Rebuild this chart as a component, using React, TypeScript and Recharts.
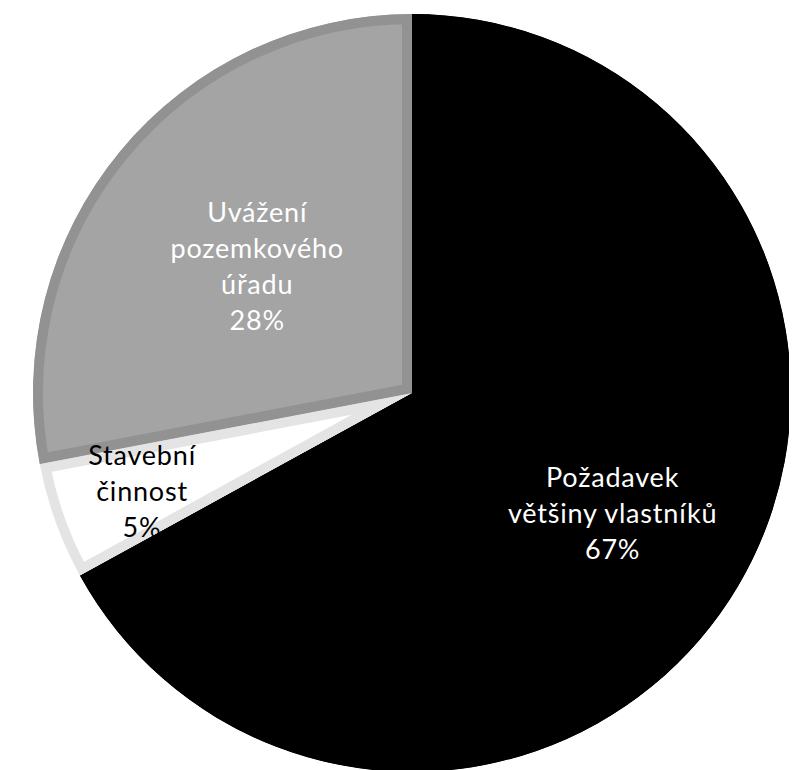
import { PieChart, Pie, Cell, Sector } from 'recharts';

// podíl jednotlivých důvodů (v %)
const names = ['Požadavek většiny vlastníků', 'Stavební činnost', 'Uvážení pozemkového úřadu'];
const labelLines = [
  ['Požadavek', 'většiny vlastníků'],
  ['Stavební', 'činnost'],
  ['Uvážení', 'pozemkového', 'úřadu'],
];
const values = [67, 5, 28];

const fills = ['#000000', '#ffffff', '#a4a4a4'];
const borders = ['#000000', '#e4e4e4', '#929292'];
const textColors = ['#ffffff', '#000000', '#ffffff'];
// how far out (fraction of radius) each label sits
const labelRadius = [0.615, 0.757, 0.53];

const data = names.map((name, i) => ({ name, value: values[i], idx: i }));

const RADIAN = Math.PI / 180;
const LINE_H = 36;

// sector with an inner border (stroke clipped to the sector itself)
const InsetSector = (props: any) => {
  const { cx, cy, innerRadius, outerRadius, startAngle, endAngle, fill, stroke } = props;
  const id = `clip-${Math.round(startAngle * 100)}-${Math.round(endAngle * 100)}`;
  return (
    <g>
      <defs>
        <clipPath id={id}>
          <Sector
            cx={cx}
            cy={cy}
            innerRadius={innerRadius}
            outerRadius={outerRadius}
            startAngle={startAngle}
            endAngle={endAngle}
          />
        </clipPath>
      </defs>
      <Sector
        cx={cx}
        cy={cy}
        innerRadius={innerRadius}
        outerRadius={outerRadius}
        startAngle={startAngle}
        endAngle={endAngle}
        fill={fill}
        stroke={stroke}
        strokeWidth={20}
        clipPath={`url(#${id})`}
      />
    </g>
  );
};

const renderLabel = (props: any) => {
  const { cx, cy, midAngle, outerRadius, index, value } = props;
  const r = outerRadius * labelRadius[index];
  const x = cx + r * Math.cos(-midAngle * RADIAN);
  const y = cy + r * Math.sin(-midAngle * RADIAN);
  const lines = [...labelLines[index], `${value}%`];
  const y0 = y - ((lines.length - 1) / 2) * LINE_H;
  return (
    <text
      x={x}
      y={y0}
      fill={textColors[index]}
      textAnchor="middle"
      dominantBaseline="central"
      fontFamily="Lato, 'Open Sans', sans-serif"
      fontSize={27}
      letterSpacing={0.8}
    >
      {lines.map((line, i) => (
        <tspan key={i} x={x} y={y0 + i * LINE_H}>
          {line}
        </tspan>
      ))}
    </text>
  );
};

export default function App() {
  return (
    <PieChart width={789} height={762}>
      <Pie
        data={data}
        dataKey="value"
        nameKey="name"
        cx={399}
        cy={380}
        outerRadius={379}
        startAngle={90}
        endAngle={-270}
        stroke="none"
        labelLine={false}
        label={renderLabel}
        shape={InsetSector}
        inactiveShape={InsetSector}
        activeShape={InsetSector}
        isAnimationActive={false}
      >
        {data.map((d) => (
          <Cell key={d.name} fill={fills[d.idx]} stroke={borders[d.idx]} />
        ))}
      </Pie>
    </PieChart>
  );
}
